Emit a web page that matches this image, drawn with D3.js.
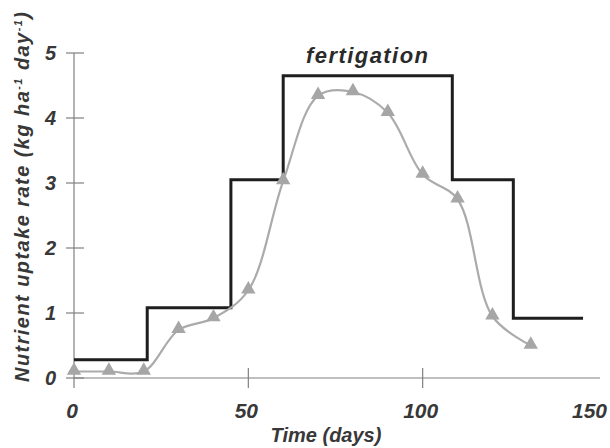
<!DOCTYPE html>
<html><head><meta charset="utf-8">
<script src="https://cdn.jsdelivr.net/npm/d3@7"></script>
<style>body{margin:0;background:#fff}svg{display:block}text{font-family:"Liberation Sans",Arial,sans-serif;font-weight:bold;font-style:italic}</style>
</head><body><svg id="c" width="610" height="448"></svg>
<script>
const xTicks = [0, 50, 100, 150];
const yTicks = [0, 1, 2, 3, 4, 5];
const fertDays = [0, 21, 45, 60, 108.5, 126, 146];
const fertRates = [0.28, 1.08, 3.05, 4.65, 3.05, 0.92];
const uptakeDays = [0, 10, 20, 30, 40, 50, 60, 70, 80, 90, 100, 110, 120, 131];
const uptakeRates = [0.1, 0.1, 0.1, 0.74, 0.92, 1.35, 3.03, 4.34, 4.4, 4.08, 3.13, 2.75, 0.95, 0.5];

const svg = d3.select('#c');
const x = d3.scaleLinear().domain([0,150]).range([74,597]);
const y = d3.scaleLinear().domain([0,5]).range([378,53]);
const axisCol = '#808080';
const txtCol = '#383838';

svg.append('line').attr('x1',x(0)).attr('x2',600).attr('y1',y(0)).attr('y2',y(0)).attr('stroke',axisCol).attr('stroke-width',1.2);
svg.append('line').attr('x1',x(0)).attr('x2',x(0)).attr('y1',y(5)).attr('y2',y(0)+10).attr('stroke',axisCol).attr('stroke-width',1.2);
svg.selectAll('.yt').data(yTicks).enter().append('line')
  .attr('x1',x(0)-8).attr('x2',x(0)+10).attr('y1',d=>y(d)).attr('y2',d=>y(d)).attr('stroke',axisCol).attr('stroke-width',1.2);
svg.selectAll('.yl').data(yTicks).enter().append('text')
  .attr('x',56).attr('y',d=>y(d)+7).attr('text-anchor','end').attr('font-size',20).attr('fill',txtCol).text(d=>d);
svg.selectAll('.xt').data(xTicks.filter(d=>d>0&&d<150)).enter().append('line')
  .attr('x1',d=>x(d)).attr('x2',d=>x(d)).attr('y1',y(0)-10).attr('y2',y(0)+10).attr('stroke',axisCol).attr('stroke-width',1.2);
svg.selectAll('.xl').data(xTicks).enter().append('text')
  .attr('x',d=>d===150?607:x(d)-2).attr('y',418).attr('text-anchor',d=>d===150?'end':'middle').attr('font-size',21).attr('fill',txtCol).text(d=>d);

svg.append('text').attr('x',326).attr('y',442).attr('text-anchor','middle').attr('font-size',20).attr('fill',txtCol).text('Time (days)');
const yt = svg.append('text').attr('transform','translate(29,197) rotate(-90)').attr('text-anchor','middle').attr('font-size',20).attr('fill',txtCol)
  .attr('textLength',370).attr('lengthAdjust','spacing');
yt.append('tspan').text('Nutrient uptake rate (kg ha');
yt.append('tspan').attr('font-size',11).attr('dy',-7).text('-1');
yt.append('tspan').attr('dy',7).text(' day');
yt.append('tspan').attr('font-size',11).attr('dy',-7).text('-1');
yt.append('tspan').attr('dy',7).text(')');

const stepPts = [];
fertRates.forEach((r,i)=>{ stepPts.push([fertDays[i],r]); stepPts.push([fertDays[i+1],r]); });
svg.append('path').datum(stepPts)
  .attr('d', d3.line().x(d=>x(d[0])).y(d=>y(d[1])))
  .attr('fill','none').attr('stroke','#1e1e1e').attr('stroke-width',3);

const up = uptakeDays.map((d,i)=>[d, uptakeRates[i]]);
svg.append('path').datum(up)
  .attr('d', d3.line().x(d=>x(d[0])).y(d=>y(d[1])).curve(d3.curveCatmullRom.alpha(0.5)))
  .attr('fill','none').attr('stroke','#ababab').attr('stroke-width',2.2);
svg.selectAll('.tri').data(up).enter().append('path')
  .attr('d', d3.symbol().type(d3.symbolTriangle).size(90))
  .attr('transform', d=>`translate(${x(d[0])},${y(d[1])-1})`)
  .attr('fill','#a6a6a6');

svg.append('text').attr('x',367).attr('y',63).attr('text-anchor','middle').attr('font-size',22).attr('fill','#2a2a2a')
  .attr('textLength',122).attr('lengthAdjust','spacing').text('fertigation');
</script></body></html>
